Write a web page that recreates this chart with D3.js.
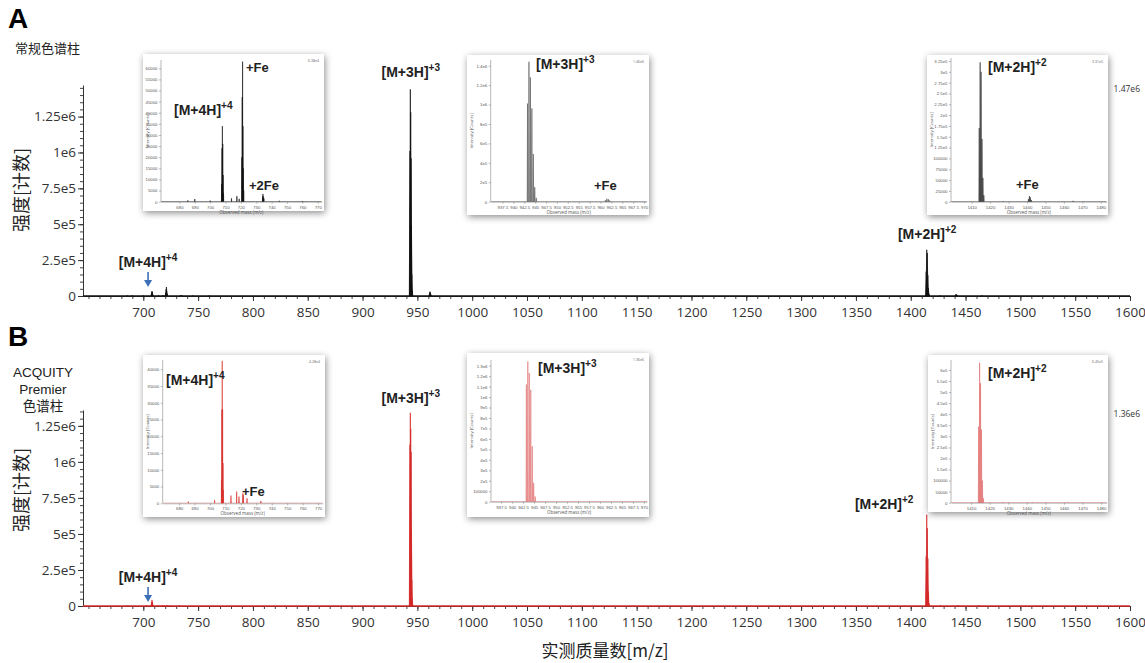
<!DOCTYPE html>
<html>
<head>
<meta charset="utf-8">
<script src="https://cdn.jsdelivr.net/npm/d3@7"></script>
<style>
  body { margin: 0; background: #fff; }
  svg { display: block; font-family: "Open Sans", "Liberation Sans", sans-serif; }
</style>
</head>
<body>
<div id="chart"></div>
<script>
// stick spectra (m/z, intensity in counts)
// panel A: regular column
const mzA = [685.5, 690, 700, 707.45, 707.7, 707.95, 708.2, 708.45, 708.7, 713.9, 717.4, 718.9,
  720.6, 720.85, 721.1, 721.35, 721.6, 721.85, 734.1, 734.35, 734.6, 735, 745, 760,
  943.25, 943.58, 943.91, 944.25, 944.58, 944.91, 945.25, 961.1, 961.45, 961.8, 962.1,
  1414.1, 1414.6, 1415.1, 1415.6, 1416.1, 1416.6, 1427, 1440.8, 1441.3, 1441.8, 1442.3, 1465];
const intA = [600, 1200, 500, 8000, 24000, 34000, 26000, 12000, 4000, 1500, 2500, 1300,
  20000, 47000, 63000, 34000, 15000, 5000, 2000, 3500, 2500, 1500, 400, 300,
  1010000, 1440000, 1280000, 960000, 490000, 150000, 40000, 15000, 30000, 25000, 12000,
  170000, 322000, 300000, 145000, 55000, 15000, 800, 6000, 13000, 10000, 4000, 2000];
// panel B: ACQUITY Premier column
const mzB = [686, 703, 707.45, 707.7, 707.95, 708.2, 708.45, 708.7, 713.6, 717.3, 718.8,
  721.3, 721.6, 724, 733, 943.25, 943.58, 943.91, 944.25, 944.58, 944.91, 945.25,
  1414.1, 1414.6, 1415.1, 1415.6, 1416.1, 1416.6, 1427, 1443, 1462];
const intB = [500, 1000, 7000, 28000, 42500, 28000, 12000, 4000, 2300, 3500, 2000,
  3000, 2500, 1500, 700, 1120000, 1340000, 1230000, 1070000, 530000, 180000, 50000,
  344000, 633000, 540000, 330000, 100000, 20000, 3000, 2000, 1000];

// axis ticks and labels
const xTicks = d3.range(700, 1601, 50);
const yTicksA = [0, 250000, 500000, 750000, 1000000, 1250000];
const yTickLabels = ['0', '2.5e5', '5e5', '7.5e5', '1e6', '1.25e6'];
const maxA = 1.47e6, maxB = 1.36e6;

let width = 1145, height = 663;
let svg = d3.select('#chart').append('svg')
  .attr('width', width)
  .attr('height', height);

// soft shadow for the inset pictures
let defs = svg.append('defs');
defs.append('filter')
    .attr('id', 'shadow')
    .attr('x', '-10%').attr('y', '-10%')
    .attr('width', '120%').attr('height', '125%')
  .append('feDropShadow')
    .attr('dx', 1).attr('dy', 2)
    .attr('stdDeviation', 3.5)
    .attr('flood-color', '#000')
    .attr('flood-opacity', 0.45);

let x = d3.scaleLinear().domain([645, 1600]).range([83, 1130]);

let sticksA = d3.zip(mzA, intA).map(d => ({mz: d[0], i: d[1]}));
let sticksB = d3.zip(mzB, intB).map(d => ({mz: d[0], i: d[1]}));

// draws each stick as a thin triangle from the baseline
function drawSpectrum(g, sticks, xs, ys, hw, stroke, fill, sw) {
  g.selectAll(null)
    .data(sticks.filter(d => d.mz > xs.domain()[0] && d.mz < xs.domain()[1]))
    .enter()
    .append('path')
      .attr('d', d => 'M' + xs(d.mz - hw) + ',' + ys(0) + 'L' + xs(d.mz) + ',' + ys(d.i) +
        'L' + xs(d.mz + hw) + ',' + ys(0) + 'Z')
      .attr('fill', fill)
      .attr('stroke', stroke)
      .attr('stroke-width', sw)
      .attr('stroke-linejoin', 'miter');
}

// ion label with a superscript charge
function ionLabel(g, px, py, base, sup, size, anchor) {
  let t = g.append('text')
    .attr('x', px)
    .attr('y', py)
    .attr('text-anchor', anchor || 'start')
    .style('font-family', '"Liberation Sans", Arial, sans-serif')
    .style('font-weight', 'bold')
    .style('font-size', size + 'px')
    .style('fill', '#222');
  t.append('tspan').text(base);
  if (sup) {
    t.append('tspan')
      .attr('dy', -size * 0.42)
      .style('font-size', (size * 0.72) + 'px')
      .text(sup);
  }
  return t;
}

function blueArrow(g, px, y1, y2) {
  g.append('line')
    .attr('x1', px).attr('x2', px)
    .attr('y1', y1).attr('y2', y2 - 5)
    .attr('stroke', '#3d6fb6')
    .attr('stroke-width', 1.6);
  g.append('path')
    .attr('d', 'M' + (px - 4) + ',' + (y2 - 7) + 'L' + (px + 4) + ',' + (y2 - 7) + 'L' + px + ',' + y2 + 'Z')
    .attr('fill', '#3d6fb6');
}

// main spectrum panel with axes
function mainPanel(sticks, y0, yTop, ymax, color, fill) {
  let g = svg.append('g');
  let y = d3.scaleLinear().domain([0, ymax]).range([y0, yTop]);

  drawSpectrum(g, sticks, x, y, 0.6, color, fill, 0.7);

  // minor ticks
  g.append('g')
    .attr('transform', 'translate(0,' + y0 + ')')
    .call(d3.axisBottom(x).tickValues(d3.range(650, 1601, 10)).tickSize(3).tickFormat(''))
    .call(a => a.select('.domain').remove())
    .selectAll('line').attr('stroke', '#444');
  g.append('g')
    .attr('transform', 'translate(83,0)')
    .call(d3.axisLeft(y).tickValues(d3.range(0, ymax, 50000)).tickSize(3).tickFormat(''))
    .call(a => a.select('.domain').remove())
    .selectAll('line').attr('stroke', '#444');

  let xa = g.append('g')
    .attr('transform', 'translate(0,' + y0 + ')')
    .call(d3.axisBottom(x).tickValues(xTicks).tickSize(5).tickSizeOuter(0).tickPadding(6)
      .tickFormat(d3.format('d')));
  xa.selectAll('text').style('font-size', '13.5px').style('fill', '#333')
    .style('font-family', '"Open Sans", sans-serif');
  xa.selectAll('line, path').attr('stroke', '#333');

  let ya = g.append('g')
    .attr('transform', 'translate(83,0)')
    .call(d3.axisLeft(y).tickValues(yTicksA).tickSize(5).tickSizeOuter(0).tickPadding(2)
      .tickFormat((d, i) => yTickLabels[i]));
  ya.selectAll('text').style('font-size', '13.5px').style('fill', '#333')
    .style('font-family', '"Open Sans", sans-serif');
  ya.selectAll('line, path').attr('stroke', '#333');

  // spectrum baseline over the axis
  g.append('line')
    .attr('x1', x(645)).attr('x2', x(1600))
    .attr('y1', y0).attr('y2', y0)
    .attr('stroke', color)
    .attr('stroke-width', 1.3);

  // full-scale value at the top right
  g.append('text')
    .attr('x', 1140)
    .attr('y', yTop + 7)
    .attr('text-anchor', 'end')
    .style('font-size', '8.5px')
    .style('fill', '#333')
    .text(d3.format('.2e')(ymax).replace('+', ''));

  return y;
}

let yA = mainPanel(sticksA, 296, 85, maxA, '#111', '#111');
let yB = mainPanel(sticksB, 606, 410, maxB, '#d42a2a', '#d42a2a');

// inset formatter: plain up to 100000, exponent above
function tinyFormat(v) {
  if (v <= 100000) return String(v);
  return v.toExponential().replace('+', '');
}

// zoomed insets
let insets = [
  {box: [143, 54, 181, 157], sticks: sticksA, mz: [668, 772.6], xr: [161, 321.7], bottom: 201.7,
    ref: [60000, 68.3], top: 60, xt: d3.range(680, 771, 10), yt: d3.range(0, 60001, 5000),
    hw: 0.12, stroke: '#111', fill: '#111', corner: '6.38e4',
    labels: [['+Fe', '', 103, 18, 13], ['[M+4H]', '+4', 31, 61, 14], ['+2Fe', '', 106, 136, 13]]},
  {box: [467, 55, 182, 160], sticks: sticksA, mz: [934.8, 970.6], xr: [490.7, 646.7], bottom: 201.7,
    ref: [1400000, 65.7], top: 60, xt: d3.range(937.5, 970.1, 2.5), yt: d3.range(0, 1400001, 200000),
    hw: 0.08, stroke: '#555', fill: '#999', corner: '1.46e6',
    labels: [['[M+3H]', '+3', 69, 14, 14], ['+Fe', '', 127, 135, 13]]},
  {box: [927, 55, 181, 160], sticks: sticksA, mz: [1398.8, 1483.2], xr: [951, 1106.7], bottom: 201.7,
    ref: [325000, 61], top: 58, xt: d3.range(1410, 1481, 10), yt: d3.range(0, 325001, 25000),
    hw: 0.2, stroke: '#333', fill: '#666', corner: '3.31e5',
    labels: [['[M+2H]', '+2', 61, 17, 14], ['+Fe', '', 89, 134, 13]]},
  {box: [143, 355, 182, 162], sticks: sticksB, mz: [669.4, 773], xr: [162.7, 322.7], bottom: 503.3,
    ref: [40000, 369.3], top: 360, xt: d3.range(680, 771, 10), yt: d3.range(0, 40001, 5000),
    hw: 0.12, stroke: '#d8322f', fill: '#d8322f', corner: '4.28e4',
    labels: [['[M+4H]', '+4', 23, 30, 14], ['+Fe', '', 99, 141, 13]]},
  {box: [467, 353, 182, 164], sticks: sticksB, mz: [935.2, 970.7], xr: [491, 647], bottom: 501.7,
    ref: [1300000, 365.7], top: 360, xt: d3.range(937.5, 970.1, 2.5), yt: d3.range(0, 1300001, 100000),
    hw: 0.08, stroke: '#e07070', fill: '#f2b4b4', corner: '1.36e6',
    labels: [['[M+3H]', '+3', 71, 20, 14]]},
  {box: [928, 355, 180, 157], sticks: sticksB, mz: [1399.2, 1483], xr: [951, 1106.7], bottom: 502.7,
    ref: [600000, 370], top: 360, xt: d3.range(1410, 1481, 10), yt: d3.range(0, 600001, 50000),
    hw: 0.2, stroke: '#e06a6a', fill: '#f2b0b0', corner: '6.45e5',
    labels: [['[M+2H]', '+2', 60, 23, 14]]}
];

insets.forEach(function(ins, k) {
  let [bx, by, bw, bh] = ins.box;
  let g = svg.append('g');
  g.append('rect')
    .attr('x', bx).attr('y', by)
    .attr('width', bw).attr('height', bh)
    .attr('fill', '#fff')
    .attr('filter', 'url(#shadow)');

  let xs = d3.scaleLinear().domain(ins.mz).range(ins.xr);
  let ys = d3.scaleLinear().domain([0, ins.ref[0]]).range([ins.bottom, ins.ref[1]]);

  let clipId = 'clip' + k;
  defs.append('clipPath').attr('id', clipId)
    .append('rect')
      .attr('x', ins.xr[0]).attr('y', ins.top - 4)
      .attr('width', ins.xr[1] - ins.xr[0]).attr('height', ins.bottom - ins.top + 4);
  let sg = g.append('g').attr('clip-path', 'url(#' + clipId + ')');
  drawSpectrum(sg, ins.sticks, xs, ys, ins.hw, ins.stroke, ins.fill, 0.6);
  sg.append('line')
    .attr('x1', ins.xr[0]).attr('x2', ins.xr[1])
    .attr('y1', ins.bottom).attr('y2', ins.bottom)
    .attr('stroke', ins.stroke).attr('stroke-width', 0.8);

  let xa = g.append('g')
    .attr('transform', 'translate(0,' + ins.bottom + ')')
    .call(d3.axisBottom(xs).tickValues(ins.xt).tickSize(2).tickSizeOuter(0).tickPadding(2)
      .tickFormat(d => String(d)));
  let ya = g.append('g')
    .attr('transform', 'translate(' + ins.xr[0] + ',0)')
    .call(d3.axisLeft(ys).tickValues(ins.yt).tickSize(2).tickSizeOuter(0).tickPadding(1.5)
      .tickFormat(tinyFormat));
  ya.select('.domain').attr('d', 'M0,' + ins.bottom + 'V' + ins.top);
  [xa, ya].forEach(function(a) {
    a.selectAll('text').style('font-size', '4.3px').style('fill', '#555');
    a.selectAll('line, path').attr('stroke', '#888').attr('stroke-width', 0.6);
  });

  g.append('text')
    .attr('x', (ins.xr[0] + ins.xr[1]) / 2)
    .attr('y', ins.bottom + 12)
    .attr('text-anchor', 'middle')
    .style('font-size', '4.5px')
    .style('fill', '#555')
    .text('Observed mass (m/z)');
  g.append('text')
    .attr('transform', 'translate(' + (bx + 6) + ',' + ((ins.top + ins.bottom) / 2) + ') rotate(-90)')
    .attr('text-anchor', 'middle')
    .style('font-size', '4.3px')
    .style('fill', '#555')
    .text('Intensity [Counts]');
  g.append('text')
    .attr('x', bx + bw - 5)
    .attr('y', by + 8)
    .attr('text-anchor', 'end')
    .style('font-size', '3.5px')
    .style('fill', '#666')
    .text(ins.corner);

  ins.labels.forEach(function(l) {
    ionLabel(g, bx + l[2], by + l[3], l[0], l[1], l[4]);
  });
});

// main annotations
ionLabel(svg, x(944), 77, '[M+3H]', '+3', 14, 'middle');
ionLabel(svg, x(1415), 239, '[M+2H]', '+2', 14, 'middle');
ionLabel(svg, x(708) - 4, 267, '[M+4H]', '+4', 14, 'middle');
blueArrow(svg, x(708) - 4, 272, 287);

ionLabel(svg, x(944), 403, '[M+3H]', '+3', 14, 'middle');
ionLabel(svg, x(1415) - 43, 509, '[M+2H]', '+2', 14, 'middle');
ionLabel(svg, x(708) - 4, 582, '[M+4H]', '+4', 14, 'middle');
blueArrow(svg, x(708) - 4, 587, 602);

// panel letters and column names
svg.append('text').attr('x', 8).attr('y', 28)
  .style('font-family', '"Liberation Sans", Arial, sans-serif')
  .style('font-weight', 'bold').style('font-size', '28px').text('A');
svg.append('text').attr('x', 8).attr('y', 346)
  .style('font-family', '"Liberation Sans", Arial, sans-serif')
  .style('font-weight', 'bold').style('font-size', '28px').text('B');

svg.append('text').attr('x', 15).attr('y', 53)
  .style('font-family', '"Noto Sans CJK SC", sans-serif')
  .style('font-size', '13px').style('fill', '#222').text('常规色谱柱');

['ACQUITY', 'Premier', '色谱柱'].forEach(function(s, i) {
  svg.append('text')
    .attr('x', 43).attr('y', 377 + i * 17)
    .attr('text-anchor', 'middle')
    .style('font-family', i < 2 ? '"Liberation Sans", Arial, sans-serif' : '"Noto Sans CJK SC", sans-serif')
    .style('font-size', '13.5px').style('fill', '#222')
    .text(s);
});

// axis titles
[190, 490].forEach(function(cy) {
  svg.append('text')
    .attr('transform', 'translate(28,' + cy + ') rotate(-90)')
    .attr('text-anchor', 'middle')
    .style('font-family', '"Noto Sans CJK SC", sans-serif')
    .style('font-size', '18px').style('fill', '#222')
    .text('强度[计数]');
});
svg.append('text')
  .attr('x', 605).attr('y', 657)
  .attr('text-anchor', 'middle')
  .style('font-family', '"Noto Sans CJK SC", sans-serif')
  .style('font-size', '17px').style('fill', '#222')
  .text('实测质量数[m/z]');
</script>
</body>
</html>
